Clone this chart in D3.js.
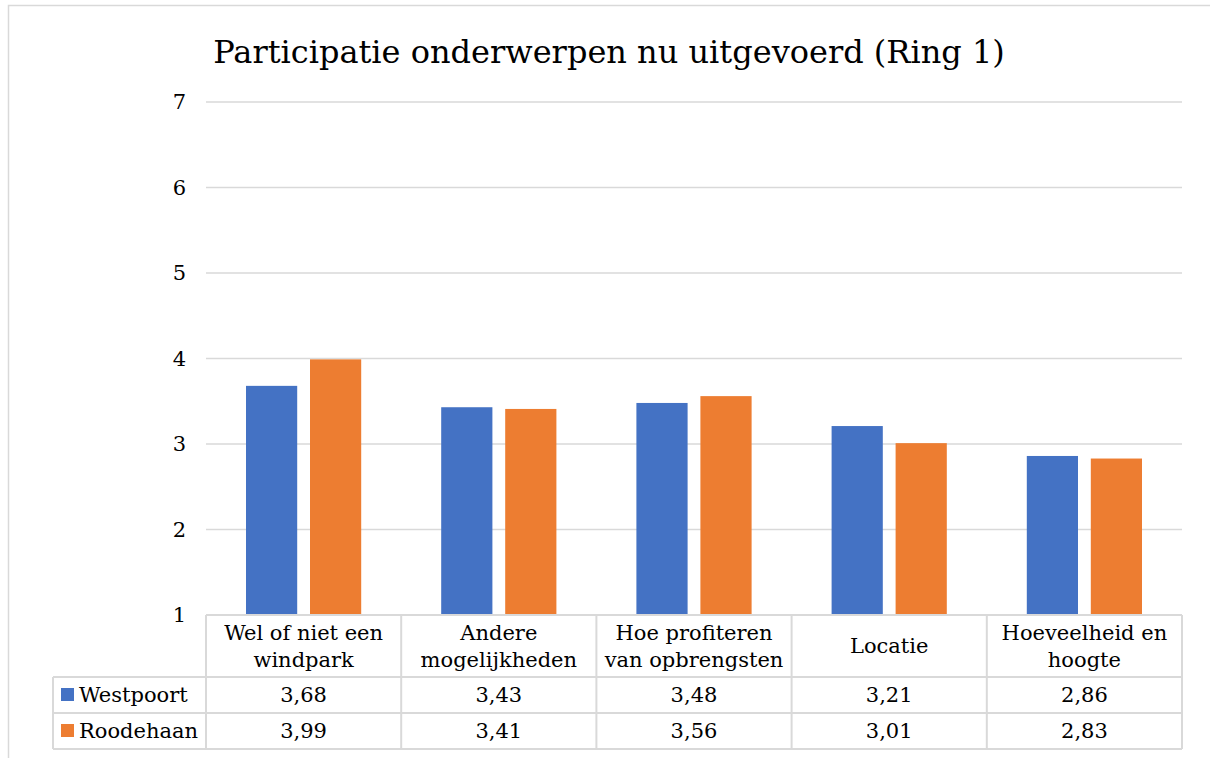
<!DOCTYPE html>
<meta charset="utf-8">
<body style="margin:0;background:#fff">
<script src="https://d3js.org/d3.v7.min.js"></script>
<script>

const categories = ["Wel of niet een windpark", "Andere mogelijkheden", "Hoe profiteren van opbrengsten", "Locatie", "Hoeveelheid en hoogte"];
const categoryLines = [["Wel of niet een", "windpark"], ["Andere", "mogelijkheden"], ["Hoe profiteren", "van opbrengsten"], ["Locatie"], ["Hoeveelheid en", "hoogte"]];
const seriesNames = ["Westpoort", "Roodehaan"];
const westpoort = [3.68, 3.43, 3.48, 3.21, 2.86];
const roodehaan = [3.99, 3.41, 3.56, 3.01, 2.83];
const yTicks = [1, 2, 3, 4, 5, 6, 7];
const title = "Participatie onderwerpen nu uitgevoerd (Ring 1)";

const colors = {Westpoort: "#4472C4", Roodehaan: "#ED7D31"};
const font = "'DejaVu Serif', serif";
const gridColor = "#d9d9d9";

const W = 1210, H = 758;
const plot = {left: 206, right: 1182, top: 102, bottom: 615};
const rowH = [62, 36, 36];   // header, series rows
const legendLeft = 53;

const data = categories.map((c, i) => ({cat: c, values: [westpoort[i], roodehaan[i]]}));

const svg = d3.select("body").append("svg")
    .attr("width", W)
    .attr("height", H)
    .style("display", "block");

// chart frame
svg.append("rect")
    .attr("x", 8.5).attr("y", 5.5)
    .attr("width", W + 20).attr("height", H + 20)
    .attr("fill", "#fff")
    .attr("stroke", gridColor)
    .attr("stroke-width", 1.5);

let x = d3.scaleBand()
    .domain(categories)
    .range([plot.left, plot.right]);

let xSub = d3.scaleBand()
    .domain(seriesNames)
    .range([0, x.bandwidth()])
    .paddingInner(0.2)
    .paddingOuter(0.625);

let y = d3.scaleLinear()
    .domain([1, 7])
    .range([plot.bottom, plot.top]);

// title
svg.append("text")
    .attr("x", 609)
    .attr("y", 63)
    .attr("text-anchor", "middle")
    .style("font-family", font)
    .style("font-size", "32px")
    .style("fill", "#000")
    .text(title);

// gridlines
svg.append("g")
    .selectAll("line")
    .data(yTicks.filter(d => d > 1))
    .join("line")
      .attr("x1", plot.left).attr("x2", plot.right)
      .attr("y1", d => y(d)).attr("y2", d => y(d))
      .attr("stroke", gridColor)
      .attr("stroke-width", 1.5);

// y labels
svg.append("g")
    .selectAll("text")
    .data(yTicks)
    .join("text")
      .attr("x", 186)
      .attr("y", d => y(d))
      .attr("dy", "0.35em")
      .attr("text-anchor", "end")
      .style("font-family", font)
      .style("font-size", "21px")
      .text(d => d);

// bars
const groups = svg.append("g")
    .selectAll("g")
    .data(data)
    .join("g")
      .attr("transform", d => `translate(${x(d.cat)},0)`);

groups.selectAll("rect")
    .data(d => d.values.map((v, i) => ({name: seriesNames[i], value: v})))
    .join("rect")
      .attr("x", d => xSub(d.name))
      .attr("width", xSub.bandwidth())
      .attr("y", d => y(d.value))
      .attr("height", d => y(1) - y(d.value))
      .attr("fill", d => colors[d.name]);

// data table
const rowY = [plot.bottom, plot.bottom + rowH[0], plot.bottom + rowH[0] + rowH[1], plot.bottom + rowH[0] + rowH[1] + rowH[2]];
const table = svg.append("g")
    .attr("stroke", gridColor)
    .attr("stroke-width", 2);

table.selectAll(".h")
    .data(rowY)
    .join("line")
      .attr("x1", (d, i) => i == 0 ? plot.left : legendLeft)
      .attr("x2", plot.right)
      .attr("y1", d => d).attr("y2", d => d);

const colX = categories.map(c => x(c)).concat([plot.right]);
table.selectAll(".v")
    .data(colX)
    .join("line")
      .attr("x1", d => d).attr("x2", d => d)
      .attr("y1", rowY[0]).attr("y2", rowY[3]);

table.append("line")
    .attr("x1", legendLeft).attr("x2", legendLeft)
    .attr("y1", rowY[1]).attr("y2", rowY[3]);

// header labels
const lineH = 27;
svg.append("g")
    .selectAll("text")
    .data(data)
    .join("text")
      .attr("text-anchor", "middle")
      .style("font-family", font)
      .style("font-size", "21px")
      .attr("transform", (d, i) => {
        const n = categoryLines[i].length;
        const cy = (rowY[0] + rowY[1]) / 2 - (n - 1) * lineH / 2;
        return `translate(${x(d.cat) + x.bandwidth() / 2},${cy})`;
      })
    .selectAll("tspan")
    .data((d, i) => categoryLines[i])
    .join("tspan")
      .attr("x", 0)
      .attr("y", (d, i) => i * lineH)
      .attr("dy", "0.35em")
      .text(d => d);

// value rows
const fmt = d3.formatLocale({decimal: ",", thousands: ".", grouping: [3], currency: ["", ""]}).format(".2f");
const series = [westpoort, roodehaan];

series.forEach((vals, si) => {
  const cy = (rowY[si + 1] + rowY[si + 2]) / 2;
  svg.append("g")
      .selectAll("text")
      .data(vals)
      .join("text")
        .attr("x", (d, i) => x(categories[i]) + x.bandwidth() / 2)
        .attr("y", cy)
        .attr("dy", "0.35em")
        .attr("text-anchor", "middle")
        .style("font-family", font)
        .style("font-size", "21px")
        .text(d => fmt(d));

  svg.append("rect")
      .attr("x", 61)
      .attr("y", cy - 7)
      .attr("width", 13)
      .attr("height", 13)
      .attr("fill", colors[seriesNames[si]]);

  svg.append("text")
      .attr("x", 79)
      .attr("y", cy)
      .attr("dy", "0.35em")
      .style("font-family", font)
      .style("font-size", "21px")
      .text(seriesNames[si]);
});

</script>
